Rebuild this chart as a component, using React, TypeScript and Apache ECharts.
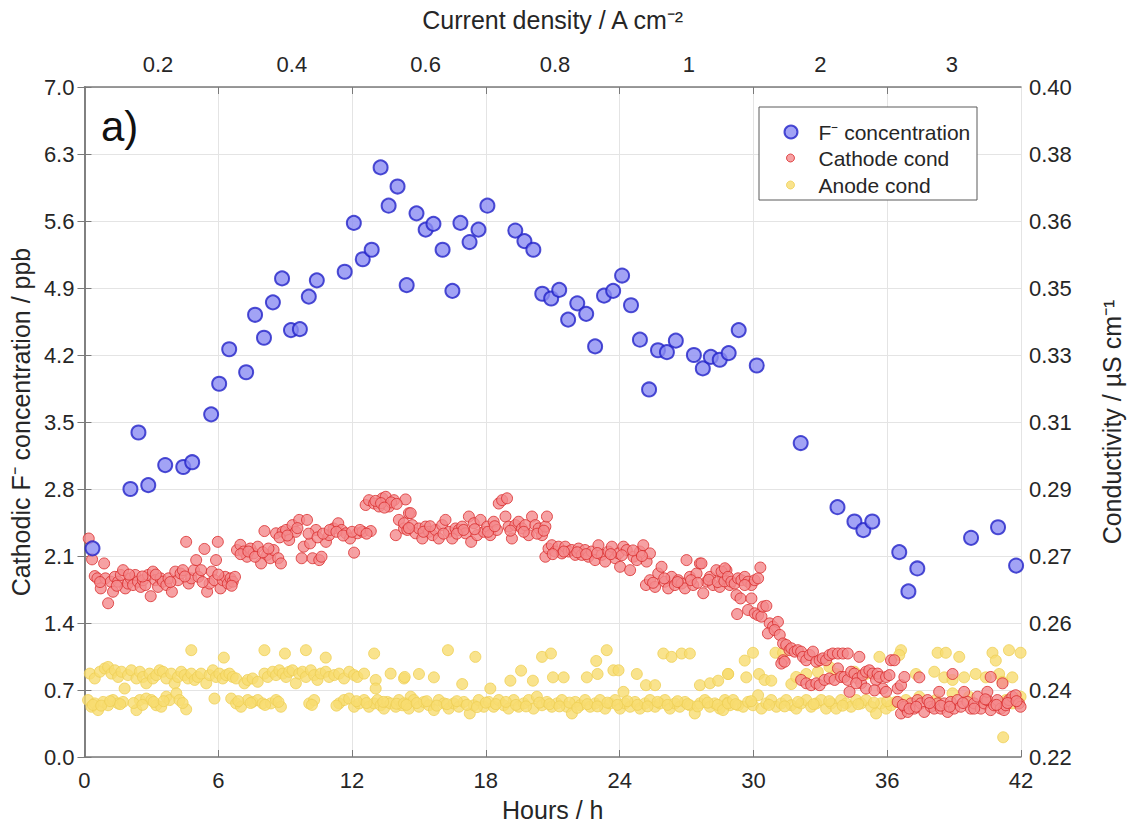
import React, { useEffect, useRef } from "react";
import * as echarts from "echarts";

// ---------- data ----------
// F- concentration (ppb) vs hours
const fHours = [0.36, 2.06, 2.42, 2.86, 3.62, 4.43, 4.83, 5.68, 6.04, 6.49, 7.25, 7.65, 8.05, 8.45, 8.86, 9.26, 9.66, 10.06, 10.42, 11.67, 12.08, 12.48, 12.88, 13.28, 13.64, 14.04, 14.45, 14.89, 15.3, 15.65, 16.06, 16.5, 16.86, 17.27, 17.67, 18.07, 19.32, 19.73, 20.13, 20.53, 20.93, 21.29, 21.69, 22.1, 22.5, 22.9, 23.3, 23.71, 24.11, 24.51, 24.91, 25.32, 25.72, 26.12, 26.52, 27.33, 27.73, 28.09, 28.49, 28.89, 29.34, 30.15, 32.12, 33.77, 34.53, 34.93, 35.33, 36.54, 36.95, 37.35, 39.76, 40.97, 41.78];
const fConc = [2.18, 2.8, 3.39, 2.84, 3.05, 3.03, 3.08, 3.58, 3.9, 4.26, 4.02, 4.62, 4.38, 4.75, 5.0, 4.46, 4.47, 4.81, 4.98, 5.07, 5.58, 5.2, 5.3, 6.16, 5.76, 5.96, 4.93, 5.68, 5.51, 5.57, 5.3, 4.87, 5.58, 5.38, 5.51, 5.76, 5.5, 5.39, 5.3, 4.84, 4.79, 4.88, 4.57, 4.74, 4.63, 4.29, 4.82, 4.87, 5.03, 4.72, 4.36, 3.84, 4.25, 4.23, 4.35, 4.2, 4.06, 4.18, 4.15, 4.22, 4.46, 4.09, 3.28, 2.61, 2.46, 2.37, 2.46, 2.14, 1.73, 1.97, 2.29, 2.4, 2.0];

// Cathode conductivity [hour, µS/cm]
const cathodeCond = [
  [0.19, 0.2787], [0.34, 0.2731], [0.46, 0.2686], [0.58, 0.268], [0.73, 0.2653], [0.88, 0.272], [0.94, 0.268], [1.06, 0.2613], [1.18, 0.2671], [1.28, 0.2644], [1.36, 0.2684], [1.51, 0.2671], [1.63, 0.2689], [1.73, 0.2702], [1.83, 0.2653], [1.95, 0.2666], [2.07, 0.268], [2.18, 0.2662], [2.28, 0.2689], [2.4, 0.2671], [2.52, 0.2657], [2.62, 0.2675], [2.73, 0.2662], [2.85, 0.2689], [2.97, 0.2632], [3.07, 0.2698], [3.18, 0.2675], [3.3, 0.2657], [3.41, 0.268], [3.52, 0.2671], [3.67, 0.2662], [3.77, 0.268], [3.92, 0.2644], [4.07, 0.2698], [4.19, 0.2675], [4.31, 0.2693], [4.41, 0.2702], [4.56, 0.2778], [4.67, 0.2666], [4.79, 0.268], [4.91, 0.2702], [5.01, 0.2729], [5.11, 0.2684], [5.23, 0.2702], [5.38, 0.2759], [5.5, 0.2644], [5.61, 0.2666], [5.71, 0.2698], [5.83, 0.2675], [5.9, 0.2729], [5.98, 0.2778], [6.1, 0.2653], [6.2, 0.2675], [6.31, 0.2684], [6.43, 0.2666], [6.55, 0.268], [6.65, 0.2671], [6.75, 0.2684],
  [0.7, 0.267], [1.45, 0.266], [2.0, 0.269], [2.6, 0.2685], [3.2, 0.269], [3.85, 0.267], [4.5, 0.2685], [5.3, 0.267], [6.0, 0.269], [6.6, 0.266],
  [6.84, 0.2756], [6.99, 0.277], [7.14, 0.2752], [7.29, 0.2738], [7.44, 0.276], [7.59, 0.2747], [7.77, 0.2765], [7.92, 0.272], [8.07, 0.2807], [8.19, 0.2743], [8.33, 0.2734], [8.48, 0.2756], [8.59, 0.2801], [8.69, 0.2734], [8.81, 0.272], [8.89, 0.2805], [9.04, 0.281], [9.18, 0.2783], [9.33, 0.2823], [9.48, 0.2805], [9.63, 0.2837], [9.74, 0.2734], [9.83, 0.2765], [9.98, 0.2837], [10.12, 0.2774], [10.23, 0.2734], [10.38, 0.281], [10.53, 0.2729], [10.63, 0.2738], [10.83, 0.2778], [10.97, 0.2796], [11.17, 0.2814], [11.38, 0.2828], [11.53, 0.281], [11.72, 0.2801], [11.91, 0.2787], [12.09, 0.2749], [12.24, 0.2801], [12.47, 0.2805], [12.84, 0.2807],
  [7.0, 0.2745], [7.35, 0.2752], [7.65, 0.2738], [8.0, 0.275], [8.25, 0.276], [8.75, 0.279], [9.1, 0.2795], [9.55, 0.2815], [10.05, 0.28], [10.45, 0.279], [10.7, 0.28], [11.0, 0.281], [11.3, 0.2805], [11.6, 0.2795], [12.0, 0.2805], [12.35, 0.281], [12.65, 0.28],
  [12.61, 0.2877], [12.76, 0.289], [12.99, 0.2881], [13.21, 0.2873], [13.36, 0.2895], [13.51, 0.2899], [13.66, 0.2873], [13.88, 0.289], [14.1, 0.2837], [13.96, 0.2796], [14.33, 0.2814], [14.4, 0.2892], [14.55, 0.2855], [13.05, 0.2888], [13.3, 0.2882], [13.75, 0.2884], [14.0, 0.288], [13.45, 0.287],
  [14.33, 0.2828], [14.48, 0.281], [14.63, 0.2855], [14.7, 0.2823], [14.85, 0.2801], [15.0, 0.2814], [15.15, 0.2787], [15.3, 0.2819], [15.45, 0.2805], [15.6, 0.2796], [15.74, 0.281], [15.89, 0.2787], [16.04, 0.2823], [16.19, 0.2837], [16.34, 0.2805], [16.49, 0.2787], [16.64, 0.2814], [16.79, 0.281], [16.94, 0.2819], [17.09, 0.2801], [17.24, 0.2846], [17.34, 0.2778], [17.46, 0.2828], [17.61, 0.2796], [17.76, 0.2837], [17.91, 0.2805], [18.06, 0.2819], [18.2, 0.2796], [18.35, 0.2832], [18.5, 0.281], [18.58, 0.2881], [18.73, 0.289], [18.95, 0.2895], [18.88, 0.2846], [19.02, 0.2819], [19.17, 0.2787], [19.32, 0.2823], [19.47, 0.2832], [19.62, 0.2814], [19.77, 0.2823], [19.92, 0.2796], [20.07, 0.2846], [20.22, 0.2823], [20.37, 0.2814], [20.52, 0.2796], [20.67, 0.2819], [20.74, 0.2846],
  [14.55, 0.2815], [15.2, 0.2805], [15.5, 0.282], [16.1, 0.28], [16.7, 0.28], [17.0, 0.281], [17.5, 0.2812], [18.1, 0.2805], [18.4, 0.282], [19.1, 0.2808], [19.7, 0.2805], [20.3, 0.28], [20.6, 0.2808],
  [20.67, 0.2738], [20.81, 0.276], [20.96, 0.2769], [21.11, 0.2752], [21.26, 0.2765], [21.41, 0.2747], [21.56, 0.2765], [21.71, 0.2752], [21.86, 0.2756], [22.01, 0.2743], [22.16, 0.276], [22.3, 0.2743], [22.45, 0.2756], [22.6, 0.2738], [22.75, 0.2752], [22.9, 0.2729], [23.05, 0.2769], [23.2, 0.2743], [23.35, 0.2725], [23.5, 0.2752], [23.65, 0.2765], [23.8, 0.2734], [23.95, 0.2747], [24.02, 0.2711], [24.17, 0.2765], [24.32, 0.2756], [24.47, 0.2702], [24.62, 0.2738], [24.77, 0.2729], [24.91, 0.2752], [25.06, 0.2769], [25.21, 0.2725], [25.36, 0.2747],
  [21.0, 0.2745], [21.5, 0.2752], [22.1, 0.275], [22.5, 0.2745], [23.0, 0.2748], [23.6, 0.2745], [24.1, 0.2742], [24.6, 0.2755], [25.0, 0.274],
  [25.18, 0.2662], [25.36, 0.2675], [25.59, 0.2657], [25.73, 0.2693], [25.88, 0.2711], [26.03, 0.2671], [26.18, 0.2653], [26.33, 0.2684], [26.48, 0.2662], [26.63, 0.2675], [26.78, 0.2666], [26.93, 0.2653], [27.0, 0.2729], [27.15, 0.2684], [27.3, 0.2662], [27.45, 0.2693], [27.6, 0.272], [27.67, 0.272], [27.75, 0.264], [27.9, 0.2671], [28.05, 0.2684], [28.19, 0.2662], [28.34, 0.2702], [28.49, 0.2657], [28.64, 0.268], [28.79, 0.2702], [28.94, 0.2662],
  [25.5, 0.2668], [26.0, 0.268], [26.6, 0.267], [27.2, 0.2675], [27.5, 0.2668], [28.0, 0.2676], [28.4, 0.267], [28.7, 0.2672],
  [28.57, 0.2698], [28.72, 0.2707], [28.86, 0.2684], [29.01, 0.2671], [29.16, 0.2666], [29.31, 0.268], [29.46, 0.2675], [29.61, 0.2684], [29.76, 0.2671], [29.91, 0.2662], [30.06, 0.2675], [30.21, 0.268], [30.31, 0.2709],
  [29.24, 0.2635], [29.42, 0.2626], [29.61, 0.2662], [29.76, 0.2595], [29.91, 0.2626], [29.27, 0.2584], [30.06, 0.2586], [30.21, 0.2581], [30.36, 0.2577], [30.43, 0.2604], [30.58, 0.2606], [30.73, 0.2559], [30.88, 0.255], [31.1, 0.2563], [30.65, 0.2532], [30.95, 0.2541], [31.18, 0.2528],
  [31.33, 0.2505], [31.47, 0.2501], [31.62, 0.2487], [31.7, 0.2492], [31.85, 0.2483], [31.99, 0.2487], [32.14, 0.2483], [32.22, 0.2469], [31.33, 0.246], [31.25, 0.2451], [31.4, 0.2456],
  [32.37, 0.246], [32.52, 0.2474], [32.67, 0.2483], [32.82, 0.2456], [32.97, 0.246], [33.11, 0.2465], [33.26, 0.246], [33.41, 0.2474], [33.56, 0.2478], [33.79, 0.2478], [34.01, 0.2478], [34.23, 0.2478], [34.75, 0.2469],
  [32.14, 0.2407], [32.37, 0.2398], [32.59, 0.2393], [32.82, 0.2398], [32.97, 0.2393], [33.19, 0.2407], [33.41, 0.2411], [33.64, 0.2407], [33.79, 0.2438], [33.93, 0.2415], [34.08, 0.2415], [34.23, 0.2407], [34.38, 0.2429], [34.53, 0.2424], [34.68, 0.2411], [34.83, 0.2398], [34.9, 0.242], [35.05, 0.2429], [35.2, 0.2433], [35.35, 0.2424], [35.5, 0.2407], [35.57, 0.2424], [35.65, 0.2415], [35.8, 0.2384], [35.95, 0.2415], [36.1, 0.242], [36.17, 0.246], [36.32, 0.246], [36.47, 0.2384], [36.62, 0.2393], [36.77, 0.2415], [34.31, 0.2375], [34.61, 0.2398], [35.05, 0.2384], [35.43, 0.2379], [35.95, 0.2375],
  [36.47, 0.2348], [36.62, 0.2317], [36.77, 0.2335], [36.92, 0.2321], [37.07, 0.2344], [37.21, 0.233], [37.36, 0.2353], [37.51, 0.2344], [37.66, 0.2321], [37.81, 0.2353], [37.96, 0.2335], [38.11, 0.233], [38.26, 0.2344], [38.41, 0.233], [38.56, 0.2344], [38.71, 0.2321], [38.85, 0.2348], [38.93, 0.2423], [39.0, 0.233], [39.15, 0.2353], [39.3, 0.2335], [39.45, 0.2375], [39.6, 0.2348], [39.75, 0.233], [39.9, 0.2344], [40.05, 0.2362], [40.2, 0.233], [40.35, 0.2344], [40.49, 0.2353], [40.49, 0.2375], [40.64, 0.2326], [40.79, 0.2339], [40.94, 0.2353], [41.09, 0.233], [41.17, 0.2398], [41.24, 0.2326], [41.32, 0.2339], [41.46, 0.2353], [41.61, 0.2362], [41.76, 0.2366], [41.91, 0.2344], [41.98, 0.2335], [37.44, 0.2414], [38.33, 0.2375], [40.64, 0.2415],
  [36.7, 0.234], [37.0, 0.233], [37.3, 0.2335], [37.9, 0.2345], [38.4, 0.2338], [38.8, 0.2335], [39.4, 0.2345], [39.9, 0.233], [40.4, 0.2355], [40.9, 0.234], [41.4, 0.2345], [41.8, 0.235],
];

// Anode conductivity [hour, µS/cm]
const anodeCond = [
  [0.24, 0.2424], [0.46, 0.2411], [0.69, 0.2429], [0.91, 0.2438], [1.06, 0.2442], [1.21, 0.2424], [1.36, 0.2433], [1.51, 0.2415], [1.66, 0.2429], [1.8, 0.2384], [1.95, 0.242], [2.1, 0.2433], [2.33, 0.2411], [2.48, 0.2429], [2.62, 0.2415], [2.77, 0.2398], [2.92, 0.2424], [3.07, 0.2411], [3.22, 0.242], [3.37, 0.2433], [3.52, 0.2429], [3.67, 0.2411], [3.89, 0.2424], [4.04, 0.2398], [4.19, 0.2415], [4.34, 0.2429], [4.49, 0.242], [4.64, 0.2411], [4.79, 0.2424], [4.94, 0.2407], [5.08, 0.2415], [5.23, 0.2424], [5.46, 0.2398], [5.61, 0.242], [5.76, 0.2433], [5.9, 0.2415], [6.05, 0.2424], [6.2, 0.2411], [6.35, 0.242], [6.5, 0.2424], [6.65, 0.2415], [6.8, 0.2411], [7.17, 0.2398], [7.32, 0.2407], [7.54, 0.2411], [7.77, 0.2402], [8.07, 0.2424], [8.22, 0.2415], [8.44, 0.2429], [8.59, 0.242], [8.74, 0.2433], [8.89, 0.2424], [9.04, 0.2415], [9.18, 0.2429], [9.33, 0.2433], [9.48, 0.2398], [9.63, 0.2424], [9.78, 0.2429], [9.93, 0.2415], [10.15, 0.2433], [10.3, 0.242], [10.45, 0.2407], [10.6, 0.2424], [10.82, 0.2429], [10.97, 0.2415], [11.2, 0.242], [11.42, 0.2424], [11.64, 0.2411], [11.87, 0.2429], [12.09, 0.242], [12.24, 0.2415], [12.54, 0.2424], [13.06, 0.2407], [13.73, 0.2424], [14.33, 0.2411],
  [0.16, 0.2353], [0.31, 0.2335], [0.46, 0.2344], [0.61, 0.2326], [0.84, 0.2348], [1.06, 0.2339], [1.28, 0.2353], [1.51, 0.2344], [1.73, 0.2348], [2.33, 0.2326], [2.48, 0.2353], [2.77, 0.2357], [3.0, 0.2353], [3.22, 0.2339], [3.44, 0.2335], [3.67, 0.2362], [3.82, 0.2353], [4.12, 0.2371], [4.26, 0.2353], [4.56, 0.2328], [5.83, 0.2357], [6.58, 0.2357], [6.8, 0.2344], [7.02, 0.2335], [7.32, 0.2353], [7.54, 0.2348], [7.77, 0.2353], [7.99, 0.2344], [8.36, 0.2344], [8.59, 0.2353], [8.81, 0.2335], [10.08, 0.2344], [10.3, 0.2353], [11.42, 0.2344], [11.64, 0.2353], [11.87, 0.2357], [12.09, 0.2335], [12.32, 0.2344], [12.54, 0.2353], [12.76, 0.2335], [12.99, 0.2344], [13.14, 0.2353], [13.28, 0.2339], [13.43, 0.233], [13.58, 0.2348], [13.73, 0.2344], [13.96, 0.2335], [14.1, 0.2353], [14.25, 0.2339], [14.48, 0.2344], [14.63, 0.2362], [13.06, 0.2384],
  [0.38, 0.234], [0.75, 0.2338], [1.15, 0.235], [1.6, 0.2342], [2.2, 0.2345], [2.6, 0.234], [3.1, 0.2348], [3.55, 0.235], [4.4, 0.2345], [6.9, 0.235], [7.45, 0.2345], [8.1, 0.234], [8.7, 0.2348], [10.2, 0.234], [11.3, 0.2338], [12.2, 0.235], [12.65, 0.2345], [13.4, 0.2348], [14.0, 0.2343],
  [4.79, 0.2487], [6.25, 0.2467], [8.07, 0.2487], [8.99, 0.2478], [9.93, 0.2487], [10.82, 0.2467], [12.99, 0.2478],
  [16.3, 0.2487], [17.53, 0.2469], [20.52, 0.2469], [20.92, 0.2478], [22.95, 0.2458], [23.42, 0.2487], [25.96, 0.2478], [26.33, 0.2469], [26.78, 0.2478], [27.15, 0.2478],
  [14.36, 0.2415], [15.0, 0.2423], [15.67, 0.2414], [16.94, 0.2396], [18.2, 0.2384], [19.1, 0.2405], [19.58, 0.2432], [20.11, 0.2405], [21.01, 0.2414], [21.49, 0.2414], [22.53, 0.2414], [23.01, 0.2423], [23.72, 0.2433], [23.95, 0.2433], [24.17, 0.2375], [24.77, 0.2423], [25.18, 0.2393], [25.59, 0.2393], [27.6, 0.2393], [28.05, 0.2398], [28.42, 0.2405], [28.87, 0.2423],
  [14.33, 0.2344], [14.55, 0.233], [14.77, 0.2353], [15.0, 0.2335], [15.22, 0.2348], [15.45, 0.2339], [15.67, 0.2326], [15.89, 0.2353], [16.12, 0.2344], [16.34, 0.233], [16.56, 0.2344], [16.79, 0.2335], [17.01, 0.2348], [17.28, 0.2317], [17.46, 0.2339], [17.68, 0.2353], [17.91, 0.2335], [18.13, 0.2348], [18.35, 0.2335], [18.58, 0.2353], [18.8, 0.2339], [19.02, 0.233], [19.25, 0.2353], [19.47, 0.2335], [19.7, 0.2344], [19.92, 0.2353], [20.14, 0.233], [20.29, 0.2362], [20.52, 0.2339], [20.74, 0.2348], [20.96, 0.2335], [21.19, 0.2344], [21.41, 0.2353], [21.63, 0.2335], [21.86, 0.2317], [22.01, 0.2348], [22.23, 0.2339], [22.45, 0.2353], [22.68, 0.2335], [22.9, 0.2344], [23.12, 0.2353], [23.35, 0.233], [23.57, 0.2344], [23.8, 0.2353], [24.02, 0.233], [24.24, 0.2344], [24.47, 0.2335], [24.69, 0.2348], [24.91, 0.233], [25.14, 0.2344], [25.36, 0.2353], [25.59, 0.2335], [25.81, 0.2344], [26.03, 0.2353], [26.26, 0.233], [26.48, 0.2344], [26.7, 0.2335], [26.93, 0.2348], [27.15, 0.2339], [27.37, 0.2317], [27.6, 0.2344], [27.82, 0.2353], [28.05, 0.2335], [28.27, 0.2344], [28.49, 0.233], [28.72, 0.2353], [28.94, 0.2339],
  [14.44, 0.234], [14.9, 0.2345], [15.35, 0.235], [15.8, 0.2338], [16.25, 0.2342], [16.7, 0.235], [17.15, 0.234], [17.6, 0.2334], [18.0, 0.2346], [18.45, 0.2342], [18.9, 0.2348], [19.35, 0.234], [19.8, 0.2336], [20.4, 0.2346], [20.85, 0.2342], [21.3, 0.2336], [21.75, 0.2346], [22.1, 0.2332], [22.55, 0.2342], [23.0, 0.2336], [23.45, 0.2346], [23.9, 0.234], [24.35, 0.235], [24.8, 0.234], [25.25, 0.2336], [25.7, 0.2348], [26.15, 0.234], [26.6, 0.235], [27.05, 0.2342], [27.5, 0.2336], [27.95, 0.2346], [28.4, 0.234], [28.85, 0.2346],
  [29.61, 0.2459], [29.98, 0.248], [30.99, 0.248], [31.33, 0.248], [35.65, 0.2469], [36.62, 0.2487], [36.54, 0.2474], [38.26, 0.248], [38.63, 0.248], [39.23, 0.2469], [40.72, 0.248], [40.87, 0.2459], [41.46, 0.2487], [41.98, 0.248],
  [28.86, 0.2423], [29.68, 0.2414], [30.25, 0.2423], [30.5, 0.2407], [30.8, 0.2405], [31.7, 0.2396], [31.92, 0.2415], [32.37, 0.2423], [32.89, 0.2429], [33.41, 0.2442], [33.71, 0.2423], [34.53, 0.2429], [35.05, 0.2423], [37.29, 0.2423], [38.11, 0.2429], [38.56, 0.2414], [38.93, 0.2407], [39.45, 0.2414], [39.97, 0.2423], [40.42, 0.2414], [41.02, 0.2423], [41.61, 0.2414], [41.17, 0.2402],
  [28.64, 0.2326], [28.86, 0.2344], [29.09, 0.2353], [29.31, 0.2339], [29.54, 0.2335], [29.76, 0.2348], [29.98, 0.2339], [30.21, 0.2366], [30.36, 0.233], [30.58, 0.2344], [30.8, 0.2353], [31.03, 0.2335], [31.25, 0.2344], [31.47, 0.2353], [31.7, 0.2339], [31.92, 0.233], [32.14, 0.2344], [32.37, 0.2353], [32.59, 0.2335], [32.82, 0.2344], [33.04, 0.2353], [33.26, 0.233], [33.49, 0.2344], [33.71, 0.233], [33.93, 0.2353], [34.16, 0.2344], [34.38, 0.2335], [34.61, 0.2353], [34.83, 0.2344], [35.05, 0.2353], [35.28, 0.2335], [35.5, 0.2317], [35.72, 0.2344], [35.95, 0.233], [36.17, 0.2339], [36.39, 0.2348],
  [29.2, 0.2342], [29.9, 0.235], [30.7, 0.234], [31.4, 0.2336], [32.0, 0.2348], [32.7, 0.2342], [33.4, 0.235], [34.0, 0.2338], [34.7, 0.2342], [35.4, 0.2346], [36.0, 0.235],
  [36.84, 0.2353], [37.44, 0.2362], [38.18, 0.2353], [38.93, 0.2371], [39.67, 0.2362], [40.42, 0.2348], [41.32, 0.2353], [41.61, 0.2344], [41.84, 0.2353], [41.98, 0.2362],
  [41.2, 0.2253],
];

// Axis ticks / labels
const innerHourTicks = [6, 12, 18, 24, 30, 36];
const currentDensityLabels = ["0.2", "0.4", "0.6", "0.8", "1", "2", "3"];
const currentDensityHours = [3.3, 9.3, 15.3, 21.1, 27.1, 33.0, 38.9];

const FONT = "'Liberation Sans', Arial, Helvetica, sans-serif";
const FRAME = "#7a7a7a";
const GRID = "#e4e4e4";
const LABEL = "#262626";

export default function App() {
  const ref = useRef<HTMLDivElement>(null);

  useEffect(() => {
    if (!ref.current) return;
    const chart = echarts.init(ref.current, undefined, { renderer: "svg" });

    const fData = fHours.map((h, i) => [h, fConc[i]]);
    const blueStyle = { color: "#8b8cf3", borderColor: "#2222c8", borderWidth: 2 };
    const redStyle = { color: "#f48a8c", borderColor: "#d92a2a", borderWidth: 1 };
    const yellowStyle = { color: "#f7dc70", borderColor: "#efcf55", borderWidth: 1 };

    const legendBase = {
      orient: "vertical",
      padding: 0,
      selectedMode: false,
      z: 10,
      textStyle: { fontSize: 21, color: LABEL, fontFamily: FONT, lineHeight: 24 },
    };

    const option: any = {
      animation: false,
      textStyle: { fontFamily: FONT },
      grid: { left: 83, right: 110, top: 87, bottom: 79, containLabel: false },
      xAxis: [
        {
          type: "value",
          position: "bottom",
          min: 0,
          max: 42,
          interval: 6,
          name: "Hours / h",
          nameLocation: "middle",
          nameGap: 40,
          nameTextStyle: { fontSize: 25, color: LABEL, fontFamily: FONT },
          axisLine: { show: true, lineStyle: { color: FRAME, width: 1.5 } },
          axisTick: { show: true, inside: true, length: 7, lineStyle: { color: FRAME } },
          axisLabel: { fontSize: 22, color: LABEL, margin: 12, fontFamily: FONT },
          splitLine: { show: true, lineStyle: { color: GRID, width: 1 } },
        },
        {
          type: "value",
          position: "top",
          min: 0,
          max: 42,
          name: "Current density / A cm⁻²",
          nameLocation: "middle",
          nameGap: 55,
          nameTextStyle: { fontSize: 25, color: LABEL, fontFamily: FONT },
          axisLine: { show: true, lineStyle: { color: FRAME, width: 1.5 } },
          axisTick: { show: true, inside: true, length: 7, customValues: innerHourTicks, lineStyle: { color: FRAME } },
          axisLabel: {
            fontSize: 22,
            color: LABEL,
            margin: 12,
            fontFamily: FONT,
            customValues: currentDensityHours,
            formatter: (v: number) => {
              const i = currentDensityHours.findIndex((p) => Math.abs(p - v) < 1e-6);
              return i >= 0 ? currentDensityLabels[i] : "";
            },
          },
          splitLine: { show: false },
        },
      ],
      yAxis: [
        {
          type: "value",
          position: "left",
          min: 0,
          max: 7,
          interval: 0.7,
          name: "Cathodic F⁻ concentration / ppb",
          nameLocation: "middle",
          nameGap: 48,
          nameRotate: 90,
          nameTextStyle: { fontSize: 25, color: LABEL, fontFamily: FONT },
          axisLine: { show: true, lineStyle: { color: FRAME, width: 1.5 } },
          axisTick: { show: true, inside: true, length: 7, lineStyle: { color: FRAME } },
          axisLabel: { fontSize: 22, color: LABEL, margin: 10, fontFamily: FONT, formatter: (v: number) => v.toFixed(1) },
          splitLine: { show: true, lineStyle: { color: GRID, width: 1 } },
        },
        {
          type: "value",
          position: "right",
          min: 0.22,
          max: 0.4,
          interval: 0.018,
          name: "Conductivity / µS cm⁻¹",
          nameLocation: "middle",
          nameGap: 78,
          nameRotate: 90,
          nameTextStyle: { fontSize: 25, color: LABEL, fontFamily: FONT },
          axisLine: { show: true, lineStyle: { color: FRAME, width: 1.5 } },
          axisTick: { show: true, inside: true, length: 7, lineStyle: { color: FRAME } },
          axisLabel: { fontSize: 22, color: LABEL, margin: 8, fontFamily: FONT, formatter: (v: number) => v.toFixed(2) },
          splitLine: { show: false },
        },
      ],
      legend: [
        {
          ...legendBase,
          left: 783.5,
          top: 120,
          itemWidth: 13,
          itemHeight: 13,
          itemStyle: blueStyle,
          data: [{ name: "F⁻ concentration", icon: "circle" }],
          textStyle: { ...legendBase.textStyle, padding: [0, 0, 0, 16] },
        },
        {
          ...legendBase,
          left: 786,
          top: 146,
          itemWidth: 8,
          itemHeight: 8,
          itemStyle: redStyle,
          data: [{ name: "Cathode cond", icon: "circle" }],
          textStyle: { ...legendBase.textStyle, padding: [0, 0, 0, 19] },
        },
        {
          ...legendBase,
          left: 786,
          top: 173,
          itemWidth: 8,
          itemHeight: 8,
          itemStyle: yellowStyle,
          data: [{ name: "Anode cond", icon: "circle" }],
          textStyle: { ...legendBase.textStyle, padding: [0, 0, 0, 19] },
        },
      ],
      graphic: [
        {
          type: "rect",
          z: 5,
          shape: { x: 759, y: 107, width: 218, height: 93 },
          style: { fill: "#ffffff", stroke: "#5a5a5a", lineWidth: 1 },
        },
        {
          type: "text",
          z: 5,
          x: 101,
          y: 126,
          style: { text: "a)", fontSize: 42, fontFamily: FONT, fill: "#111", textVerticalAlign: "middle" },
        },
      ],
      series: [
        {
          name: "Anode cond",
          type: "scatter",
          xAxisIndex: 0,
          yAxisIndex: 1,
          symbol: "circle",
          symbolSize: 11,
          itemStyle: yellowStyle,
          data: anodeCond,
          z: 2,
        },
        {
          name: "Cathode cond",
          type: "scatter",
          xAxisIndex: 0,
          yAxisIndex: 1,
          symbol: "circle",
          symbolSize: 11,
          itemStyle: redStyle,
          data: cathodeCond,
          z: 3,
        },
        {
          name: "F⁻ concentration",
          type: "scatter",
          xAxisIndex: 0,
          yAxisIndex: 0,
          symbol: "circle",
          symbolSize: 14,
          itemStyle: blueStyle,
          data: fData,
          z: 4,
        },
      ],
    };

    chart.setOption(option);
    return () => chart.dispose();
  }, []);

  return <div ref={ref} style={{ position: "absolute", left: 0, top: 0, width: 1132, height: 836, background: "#fff" }} />;
}
